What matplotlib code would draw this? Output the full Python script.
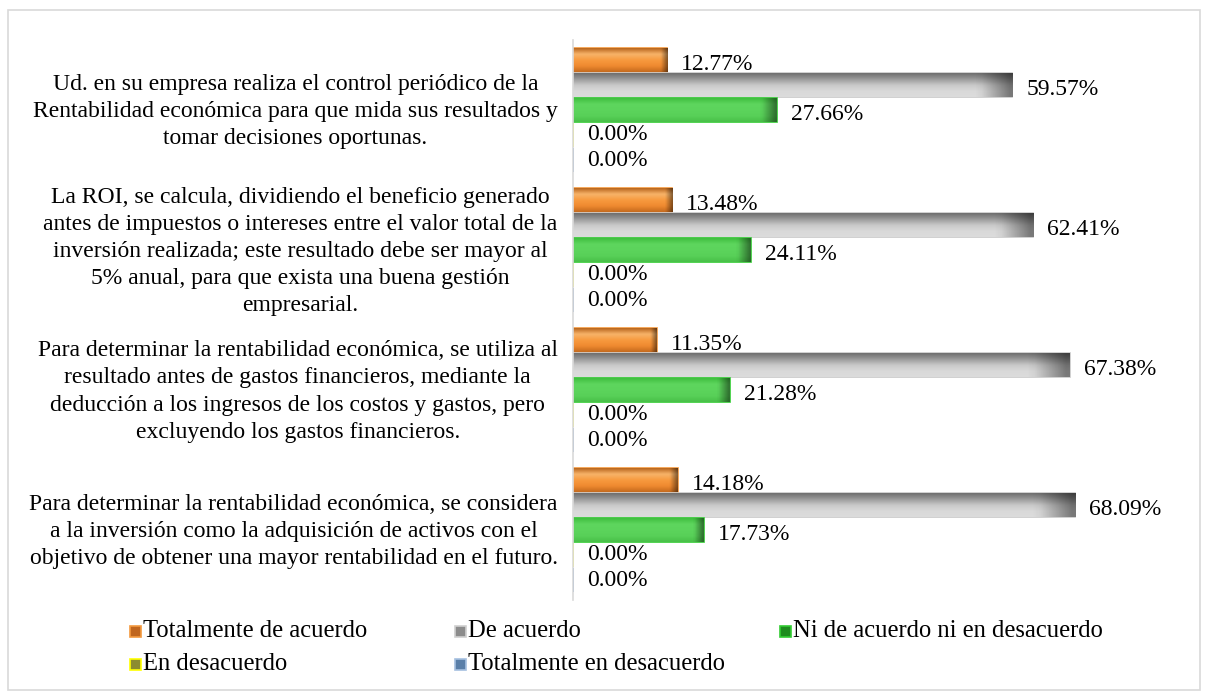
import numpy as np
import matplotlib
matplotlib.use("Agg")
import matplotlib.pyplot as plt
from matplotlib.patches import Rectangle
from matplotlib.colors import LinearSegmentedColormap
from matplotlib.transforms import ScaledTranslation

categories = [
    "Ud. en su empresa realiza el control periódico de la\nRentabilidad económica para que mida sus resultados y\ntomar decisiones oportunas.",
    "La ROI, se calcula, dividiendo el beneficio generado\nantes de impuestos o intereses entre el valor total de la\ninversión realizada; este resultado debe ser mayor al\n5% anual, para que exista una buena gestión\nempresarial.",
    "Para determinar la rentabilidad económica, se utiliza al\nresultado antes de gastos financieros, mediante la\ndeducción a los ingresos de los costos y gastos, pero\nexcluyendo los gastos financieros.",
    "Para determinar la rentabilidad económica, se considera\na la inversión como la adquisición de activos con el\nobjetivo de obtener una mayor rentabilidad en el futuro.",
]
series_names = ["Totalmente de acuerdo", "De acuerdo", "Ni de acuerdo ni en desacuerdo",
                "En desacuerdo", "Totalmente en desacuerdo"]
totalmente_de_acuerdo = [0.1277, 0.1348, 0.1135, 0.1418]
de_acuerdo = [0.5957, 0.6241, 0.6738, 0.6809]
ni_de_acuerdo = [0.2766, 0.2411, 0.2128, 0.1773]
en_desacuerdo = [0.0, 0.0, 0.0, 0.0]
totalmente_en_desacuerdo = [0.0, 0.0, 0.0, 0.0]
series = [totalmente_de_acuerdo, de_acuerdo, ni_de_acuerdo, en_desacuerdo, totalmente_en_desacuerdo]

plt.rcParams['font.family'] = ['Liberation Serif', 'DejaVu Serif']
FS = 17
FS_LEG = 17.7

grads = [
    ["#B8651C", "#F8B46A", "#F79A3E", "#F08A30", "#C46A1E"],
    ["#6E6E6E", "#9A9A9A", "#C8C8C8", "#D9D9D9", "#DCDCDC"],
    ["#3FBF3F", "#5ED65E", "#5CD45C", "#58D058", "#48C048"],
    ["#C0C000", "#C0C000", "#C0C000"],
    ["#4F81BD", "#4F81BD", "#4F81BD"],
]
edges = ["#F39A3F", "#C8C8C8", "#33CC33", "#FFFF00", "#4F81BD"]
legend_fill = ["#C0661E", "#8C8C8C", "#1E8C1E", "#8C8C30", "#5A7FA8"]
legend_edge = ["#F39A3F", "#D0D0D0", "#33CC33", "#FFFF00", "#A6C0E0"]

fig = plt.figure(figsize=(12.06, 6.95), dpi=100)
ax = fig.add_axes([573/1206, 1-600/695, (1163-573)/1206, 560/695])

n = len(categories)
w = 25/140
y = np.arange(n)
for k, vals in enumerate(series):
    pos = y + (k - 2) * w
    bars = ax.barh(pos, vals, height=w*0.96, color=grads[k][2], edgecolor=edges[k],
                   linewidth=1.2, zorder=2)
    cmap = LinearSegmentedColormap.from_list(f"g{k}", grads[k])
    for b, v in zip(bars, vals):
        if v > 0:
            x0, y0, bw, bh = b.get_x(), b.get_y(), b.get_width(), b.get_height()
            grad = np.linspace(0, 1, 64).reshape(-1, 1)
            im = ax.imshow(grad, cmap=cmap, aspect='auto',
                           extent=[x0, x0 + bw, y0 + bh, y0], zorder=2.5, interpolation='bicubic')
            im.set_clip_path(b)
            shade = np.linspace(0, 1, 64).reshape(1, -1)
            alpha = np.clip((shade - 0.93) / 0.07, 0, 1) * 0.45
            rgba = np.zeros((1, 64, 4))
            rgba[..., 3] = alpha
            im2 = ax.imshow(rgba, aspect='auto', extent=[x0, x0 + bw, y0 + bh, y0],
                            zorder=2.6, interpolation='bilinear')
            im2.set_clip_path(b)
        dy = -3 if k < 3 else 0
        ax.annotate(f"{v*100:.2f}%", xy=(v, b.get_y() + b.get_height()/2),
                    xytext=(10, dy), textcoords='offset points', ha='left', va='center',
                    fontsize=FS, color='black', zorder=3)

ax.set_xlim(0, 0.8)
ax.set_ylim(n - 0.5, -0.5)
ax.set_yticks(y)
ax.set_yticklabels(categories, fontsize=FS, ha='right', multialignment='center',
                   linespacing=1.38)
ax.tick_params(axis='y', length=0, pad=11)
shift = ScaledTranslation(0, 4/100, fig.dpi_scale_trans)
for lbl in ax.get_yticklabels():
    lbl.set_transform(lbl.get_transform() + shift)
ax.set_xticks([])
for s in ['top', 'right', 'bottom']:
    ax.spines[s].set_visible(False)
ax.spines['left'].set_color('#D9D9D9')
ax.spines['left'].set_linewidth(1.2)

leg_pos = [(130, 631), (455, 631), (780, 631), (130, 664), (455, 664)]
for (px, py), name, fc, ec in zip(leg_pos, series_names, legend_fill, legend_edge):
    fig.patches.append(Rectangle((px/1206, 1-(py+6)/695), 11/1206, 11/695,
                                 transform=fig.transFigure, facecolor=fc, edgecolor=ec,
                                 linewidth=1.2))
    fig.text((px+13)/1206, 1-py/695, name, fontsize=FS_LEG, ha='left', va='center')

fig.patches.append(Rectangle((8/1206, 1-690/695), 1192/1206, 680/695, transform=fig.transFigure,
                             facecolor='none', edgecolor='#D9D9D9', linewidth=1.2))

fig.savefig("out.png", dpi=100)
